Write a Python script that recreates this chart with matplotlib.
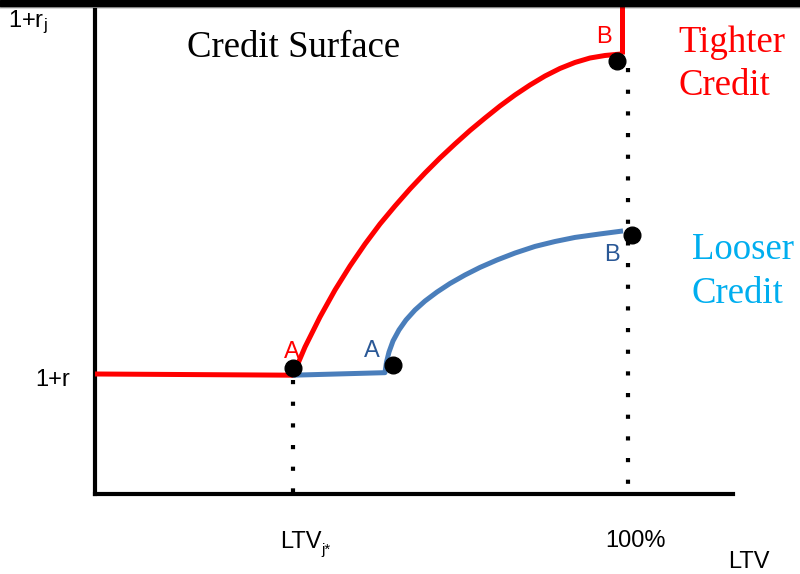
import matplotlib
matplotlib.use("Agg")
import matplotlib.pyplot as plt
from matplotlib.patches import Rectangle

plt.rcParams['font.family'] = ['Liberation Sans', 'DejaVu Sans']
plt.rcParams['mathtext.default'] = 'regular'

# ---- data (x: LTV in %, y: gross rate, 1+r = 1) ----
ltv_star = 37.3
ltv_full = 100.0

red_flat_x = [0.0, 37.3]
red_flat_y = [1.0, 0.99]
red_curve_x = [37.29, 39.55, 42.37, 45.20, 48.02, 50.85, 53.67, 56.50, 59.32, 62.15, 64.97,
               67.80, 70.62, 73.45, 76.27, 79.10, 81.92, 84.75, 87.57, 90.40, 93.22, 96.05, 99.19]
red_curve_y = [0.99, 1.225, 1.475, 1.70, 1.90, 2.083, 2.25, 2.40, 2.542, 2.675, 2.80,
               2.917, 3.029, 3.133, 3.233, 3.325, 3.408, 3.483, 3.546, 3.596, 3.633, 3.654, 3.667]
red_vert_x = [99.19, 99.19]
red_vert_y = [3.667, 4.12]

blue_x = [37.3, 54.61, 54.90, 55.37, 56.12, 57.25, 58.57, 60.26, 62.15, 64.41, 66.85, 69.68,
          72.50, 75.71, 79.10, 82.86, 86.63, 90.40, 95.10, 99.44]
blue_y = [0.99, 1.011, 1.10, 1.183, 1.275, 1.367, 1.45, 1.533, 1.608, 1.683, 1.754, 1.825,
          1.888, 1.95, 2.008, 2.063, 2.104, 2.138, 2.167, 2.192]

pts_x = [37.3, 56.1, 98.3, 101.1]
pts_y = [1.05, 1.075, 3.608, 2.158]

left_dot_x = [37.3, 37.3]
left_dot_y = [0.95, 0.0]
right_dot_x = [100.3, 100.3]
right_dot_y = [3.55, 0.0]

RED = '#FF0000'
BLUE = '#4A7EBB'
DBLUE = '#2A5896'
LBLUE = '#00AEEF'

fig = plt.figure(figsize=(8.0, 5.74), dpi=100)
ax = fig.add_axes([95/800, 80/574, 638/800, 484/574])
ax.set_xlim(0, 120.15)
ax.set_ylim(0, 4.033)
for s in ['top', 'right']:
    ax.spines[s].set_visible(False)
for s in ['left', 'bottom']:
    ax.spines[s].set_linewidth(3)
    ax.spines[s].set_color('black')
ax.set_xticks([])
ax.set_yticks([])

# dotted guide lines
for xs, ys in [(left_dot_x, left_dot_y), (right_dot_x, right_dot_y)]:
    ax.plot(xs, ys, color='black', lw=3, dashes=(1, 4.2), dash_capstyle='butt',
            clip_on=False, zorder=2)

# curves
kw = dict(lw=3.6, solid_capstyle='butt', solid_joinstyle='round')
ax.plot(red_flat_x, red_flat_y, color=RED, zorder=3, **kw)
ax.plot(blue_x, blue_y, color=BLUE, zorder=3, **kw)
ax.plot(red_curve_x, red_curve_y, color=RED, zorder=4, **kw)
ax.plot(red_vert_x, red_vert_y, color=RED, zorder=4, clip_on=False, **kw)

ax.plot(pts_x, pts_y, 'o', color='black', ms=12, zorder=5, clip_on=False)

# point labels
ax.text(37.1, 1.183, 'A', color=RED, fontsize=17, ha='center', va='center')
ax.text(52.2, 1.19, 'A', color=DBLUE, fontsize=17, ha='center', va='center')
ax.text(95.9, 3.808, 'B', color=RED, fontsize=17, ha='center', va='center')
ax.text(97.4, 1.99, 'B', color=DBLUE, fontsize=17, ha='center', va='center')

serif = ['Liberation Serif', 'DejaVu Serif']
ax.text(17.3, 3.717, 'Credit Surface', fontsize=26.5, family=serif, ha='left', va='center')
ax.text(109.8, 3.758, 'Tighter', fontsize=26.5, family=serif, color=RED, ha='left', va='center')
ax.text(109.8, 3.400, 'Credit', fontsize=26.5, family=serif, color=RED, ha='left', va='center')
ax.text(112.4, 2.033, 'Looser', fontsize=26.5, family=serif, color=LBLUE, ha='left', va='center')
ax.text(112.4, 1.667, 'Credit', fontsize=26.5, family=serif, color=LBLUE, ha='left', va='center')

# axis labels
ax.text(-16.4, 3.93, r'1+r$_{j}$', fontsize=17, ha='left', va='center')
ax.text(-4.7, 0.95, '1+r', fontsize=17, ha='right', va='center')
ax.text(34.8, -0.40, 'LTV', fontsize=17, ha='left', va='center')
ax.text(42.7, -0.47, 'j*', fontsize=11, ha='left', va='center')
ax.text(96.0, -0.392, '100%', fontsize=17, ha='left', va='center')
ax.text(119.2, -0.567, 'LTV', fontsize=17, ha='left', va='center')

# top black band
fig.patches.append(Rectangle((0, 1 - 6/574), 1, 6/574, transform=fig.transFigure,
                             color='black', zorder=10))
for i, a in enumerate([0.6, 0.35, 0.15]):
    fig.patches.append(Rectangle((0, 1 - (7 + i)/574), 1, 1/574, transform=fig.transFigure,
                                 color='black', alpha=a, lw=0, zorder=10))

fig.savefig('out.png', dpi=100)
